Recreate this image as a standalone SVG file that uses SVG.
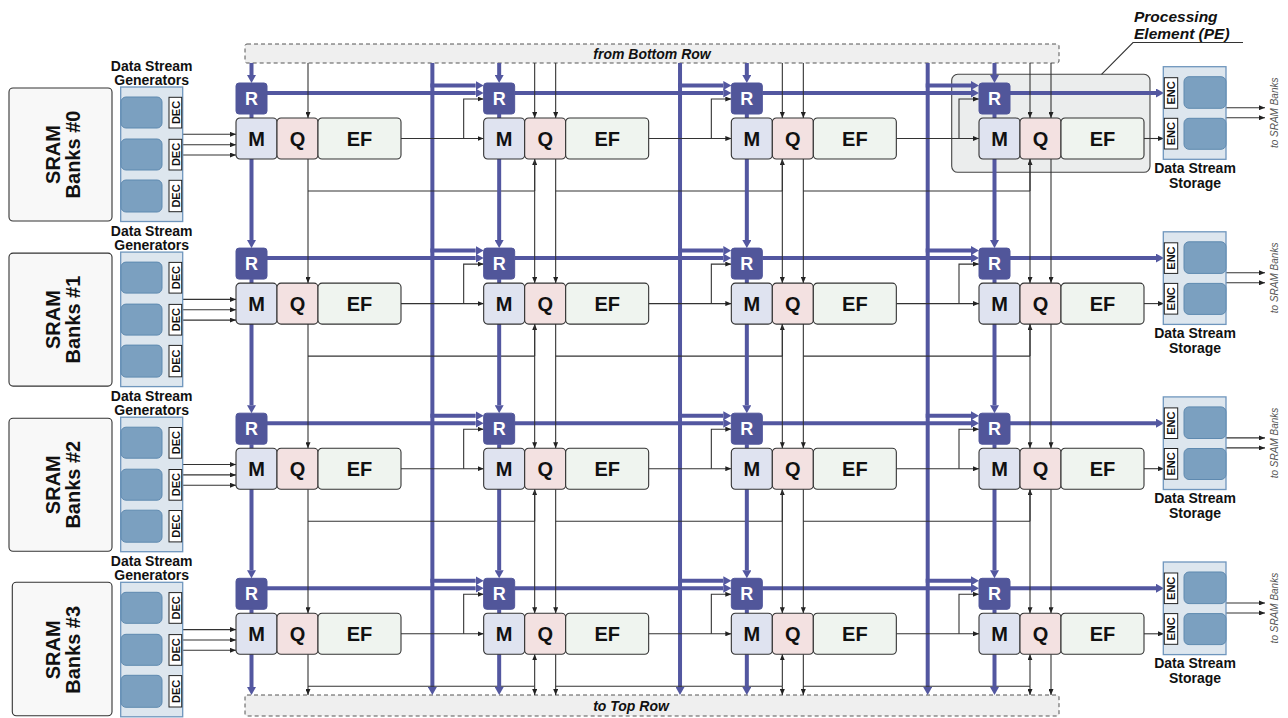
<svg xmlns="http://www.w3.org/2000/svg" width="1288" height="718" viewBox="0 0 1288 718">
<defs>
<style>
text{font-family:"Liberation Sans",Arial,sans-serif}
.bus{fill:none;stroke:#5357a0;stroke-width:4}
.thin{fill:none;stroke:#333;stroke-width:1.1}
.ba{marker-end:url(#ab)}
.ta{marker-end:url(#at)}
.rbox{fill:#51569a;stroke:#51569a;stroke-width:1}
.mbox{fill:#dfe3f0;stroke:#333;stroke-width:1.1}
.qbox{fill:#f3e1e1;stroke:#333;stroke-width:1.1}
.efbox{fill:#eff4ef;stroke:#333;stroke-width:1.1}
.rt{font-size:18px;font-weight:bold;fill:#fff;text-anchor:middle}
.bt{font-size:20px;font-weight:bold;fill:#111;text-anchor:middle}
.sram{fill:#f8f8f8;stroke:#333;stroke-width:1.1}
.st{font-size:20px;font-weight:bold;fill:#111;text-anchor:middle}
.dsg{fill:#dde6ee;stroke:#6f96bd;stroke-width:1.3}
.blk{fill:#7ba0c0;stroke:#5f8ab0;stroke-width:1}
.tag{fill:#fff;stroke:#222;stroke-width:1}
.tagt{font-size:11px;font-weight:bold;fill:#111;text-anchor:middle}
.lbl{font-size:14px;font-weight:bold;fill:#111;text-anchor:middle}
.dash{fill:#efefef;stroke:#555;stroke-width:1;stroke-dasharray:4,3}
.it{font-size:14px;font-weight:bold;font-style:italic;fill:#111;text-anchor:middle}
.sb{font-size:10px;font-style:italic;fill:#555;text-anchor:middle}
</style>
<marker id="ab" markerWidth="8" markerHeight="9" refX="0" refY="4.5" orient="auto" markerUnits="userSpaceOnUse" viewBox="0 0 8 9"><path d="M0,0 L8,4.5 L0,9 z" fill="#5357a0"/></marker>
<marker id="at" markerWidth="6" markerHeight="5" refX="6" refY="2.5" orient="auto" markerUnits="userSpaceOnUse" viewBox="0 0 6 5"><path d="M0,0 L6,2.5 L0,5 z" fill="#222"/></marker>
</defs>
<rect width="1288" height="718" fill="#fff"/>

<g id="pe-highlight">
<rect x="951.7" y="74.3" width="198.3" height="98" rx="6" fill="#ebeded" stroke="#444" stroke-width="1.1"/>
</g>

<g id="from-bottom-row"><rect class="dash" x="245" y="44" width="814" height="19" rx="2"/><text class="it" x="652" y="58.5">from Bottom Row</text></g>
<g id="to-top-row"><rect class="dash" x="245" y="695" width="814" height="21" rx="2"/><text class="it" x="631" y="710.5">to Top Row</text></g>

<g id="connectors">
<g id="diag-buses">
<path class="bus ba" d="M432.37,63V687"/>
<path class="bus ba" d="M680.03,63V687"/>
<path class="bus ba" d="M927.7,63V687"/>
</g>
<!-- row 0 -->
<g transform="translate(236,118)">
<path class="bus ba" d="M15.5,-55V-43"/><path class="bus ba" d="M15.5,-4V122.1"/><path class="bus ba" d="M31,-25H239.67"/>
<path class="thin ta" d="M72,-55V0"/><path class="thin" d="M72,73H298.67"/>
<path class="thin ta" d="M-53,16.3H0"/><path class="thin ta" d="M-53,26.7H0"/><path class="thin ta" d="M-53,37H0"/>
</g>
<g transform="translate(483.67,118)">
<path class="bus ba" d="M15.5,-55V-43"/><path class="bus ba" d="M15.5,-4V122.1"/><path class="bus ba" d="M31,-25H239.67"/><path class="bus ba" d="M-53.3,-32.5H-8"/>
<path class="thin ta" d="M51,-55V0"/><path class="thin ta" d="M72,-55V0"/><path class="thin ta" d="M51,73V41"/><path class="thin" d="M72,73H298.67"/>
<path class="thin ta" d="M-82.67,20.5H0"/><path class="thin ta" d="M-20,20.5V-19H0"/>
</g>
<g transform="translate(731.33,118)">
<path class="bus ba" d="M15.5,-55V-43"/><path class="bus ba" d="M15.5,-4V122.1"/><path class="bus ba" d="M31,-25H239.67"/><path class="bus ba" d="M-53.3,-32.5H-8"/>
<path class="thin ta" d="M51,-55V0"/><path class="thin ta" d="M72,-55V0"/><path class="thin ta" d="M51,73V41"/><path class="thin" d="M72,73H298.67"/>
<path class="thin ta" d="M-82.67,20.5H0"/><path class="thin ta" d="M-20,20.5V-19H0"/>
</g>
<g transform="translate(979,118)">
<path class="bus ba" d="M15.5,-55V-43"/><path class="bus ba" d="M15.5,-4V122.1"/><path class="bus ba" d="M31,-25H177"/><path class="bus ba" d="M-53.3,-32.5H-8"/>
<path class="thin ta" d="M51,-55V0"/><path class="thin ta" d="M72,-55V0"/><path class="thin ta" d="M51,73V41"/>
<path class="thin ta" d="M-82.67,20.5H0"/><path class="thin ta" d="M-20,20.5V-19H0"/>
<path class="thin ta" d="M165,20.5H185"/><path class="thin ta" d="M247,-10.3H286"/><path class="thin ta" d="M247,-0.3H286"/>
</g>
<!-- row 1 -->
<g transform="translate(236,283.1)">
<path class="bus ba" d="M15.5,-4V122.1"/><path class="bus ba" d="M31,-25H239.67"/>
<path class="thin ta" d="M72,-124.1V0"/><path class="thin" d="M72,73H298.67"/>
<path class="thin ta" d="M-53,16.3H0"/><path class="thin ta" d="M-53,26.7H0"/><path class="thin ta" d="M-53,37H0"/>
</g>
<g transform="translate(483.67,283.1)">
<path class="bus ba" d="M15.5,-4V122.1"/><path class="bus ba" d="M31,-25H239.67"/><path class="bus ba" d="M-53.3,-32.5H-8"/>
<path class="thin ta" d="M51,-124.1V0"/><path class="thin ta" d="M72,-124.1V0"/><path class="thin ta" d="M51,73V41"/><path class="thin" d="M72,73H298.67"/>
<path class="thin ta" d="M-82.67,20.5H0"/><path class="thin ta" d="M-20,20.5V-19H0"/>
</g>
<g transform="translate(731.33,283.1)">
<path class="bus ba" d="M15.5,-4V122.1"/><path class="bus ba" d="M31,-25H239.67"/><path class="bus ba" d="M-53.3,-32.5H-8"/>
<path class="thin ta" d="M51,-124.1V0"/><path class="thin ta" d="M72,-124.1V0"/><path class="thin ta" d="M51,73V41"/><path class="thin" d="M72,73H298.67"/>
<path class="thin ta" d="M-82.67,20.5H0"/><path class="thin ta" d="M-20,20.5V-19H0"/>
</g>
<g transform="translate(979,283.1)">
<path class="bus ba" d="M15.5,-4V122.1"/><path class="bus ba" d="M31,-25H177"/><path class="bus ba" d="M-53.3,-32.5H-8"/>
<path class="thin ta" d="M51,-124.1V0"/><path class="thin ta" d="M72,-124.1V0"/><path class="thin ta" d="M51,73V41"/>
<path class="thin ta" d="M-82.67,20.5H0"/><path class="thin ta" d="M-20,20.5V-19H0"/>
<path class="thin ta" d="M165,20.5H185"/><path class="thin ta" d="M247,-10.3H286"/><path class="thin ta" d="M247,-0.3H286"/>
</g>
<!-- row 2 -->
<g transform="translate(236,448.2)">
<path class="bus ba" d="M15.5,-4V122.1"/><path class="bus ba" d="M31,-25H239.67"/>
<path class="thin ta" d="M72,-124.1V0"/><path class="thin" d="M72,73H298.67"/>
<path class="thin ta" d="M-53,16.3H0"/><path class="thin ta" d="M-53,26.7H0"/><path class="thin ta" d="M-53,37H0"/>
</g>
<g transform="translate(483.67,448.2)">
<path class="bus ba" d="M15.5,-4V122.1"/><path class="bus ba" d="M31,-25H239.67"/><path class="bus ba" d="M-53.3,-32.5H-8"/>
<path class="thin ta" d="M51,-124.1V0"/><path class="thin ta" d="M72,-124.1V0"/><path class="thin ta" d="M51,73V41"/><path class="thin" d="M72,73H298.67"/>
<path class="thin ta" d="M-82.67,20.5H0"/><path class="thin ta" d="M-20,20.5V-19H0"/>
</g>
<g transform="translate(731.33,448.2)">
<path class="bus ba" d="M15.5,-4V122.1"/><path class="bus ba" d="M31,-25H239.67"/><path class="bus ba" d="M-53.3,-32.5H-8"/>
<path class="thin ta" d="M51,-124.1V0"/><path class="thin ta" d="M72,-124.1V0"/><path class="thin ta" d="M51,73V41"/><path class="thin" d="M72,73H298.67"/>
<path class="thin ta" d="M-82.67,20.5H0"/><path class="thin ta" d="M-20,20.5V-19H0"/>
</g>
<g transform="translate(979,448.2)">
<path class="bus ba" d="M15.5,-4V122.1"/><path class="bus ba" d="M31,-25H177"/><path class="bus ba" d="M-53.3,-32.5H-8"/>
<path class="thin ta" d="M51,-124.1V0"/><path class="thin ta" d="M72,-124.1V0"/><path class="thin ta" d="M51,73V41"/>
<path class="thin ta" d="M-82.67,20.5H0"/><path class="thin ta" d="M-20,20.5V-19H0"/>
<path class="thin ta" d="M165,20.5H185"/><path class="thin ta" d="M247,-10.3H286"/><path class="thin ta" d="M247,-0.3H286"/>
</g>
<!-- row 3 -->
<g transform="translate(236,613.3)">
<path class="bus ba" d="M15.5,-4V73.7"/><path class="bus ba" d="M31,-25H239.67"/>
<path class="thin ta" d="M72,-124.1V0"/><path class="thin" d="M72,73H298.67"/><path class="thin ta" d="M72,41V81.7"/>
<path class="thin ta" d="M-53,16.3H0"/><path class="thin ta" d="M-53,26.7H0"/><path class="thin ta" d="M-53,37H0"/>
</g>
<g transform="translate(483.67,613.3)">
<path class="bus ba" d="M15.5,-4V73.7"/><path class="bus ba" d="M31,-25H239.67"/><path class="bus ba" d="M-53.3,-32.5H-8"/>
<path class="thin ta" d="M51,-124.1V0"/><path class="thin ta" d="M72,-124.1V0"/><path class="thin ta" d="M51,73V41"/><path class="thin" d="M72,73H298.67"/>
<path class="thin ta" d="M51,73V81.7"/><path class="thin ta" d="M72,41V81.7"/>
<path class="thin ta" d="M-82.67,20.5H0"/><path class="thin ta" d="M-20,20.5V-19H0"/>
</g>
<g transform="translate(731.33,613.3)">
<path class="bus ba" d="M15.5,-4V73.7"/><path class="bus ba" d="M31,-25H239.67"/><path class="bus ba" d="M-53.3,-32.5H-8"/>
<path class="thin ta" d="M51,-124.1V0"/><path class="thin ta" d="M72,-124.1V0"/><path class="thin ta" d="M51,73V41"/><path class="thin" d="M72,73H298.67"/>
<path class="thin ta" d="M51,73V81.7"/><path class="thin ta" d="M72,41V81.7"/>
<path class="thin ta" d="M-82.67,20.5H0"/><path class="thin ta" d="M-20,20.5V-19H0"/>
</g>
<g transform="translate(979,613.3)">
<path class="bus ba" d="M15.5,-4V73.7"/><path class="bus ba" d="M31,-25H177"/><path class="bus ba" d="M-53.3,-32.5H-8"/>
<path class="thin ta" d="M51,-124.1V0"/><path class="thin ta" d="M72,-124.1V0"/><path class="thin ta" d="M51,73V41"/>
<path class="thin ta" d="M51,73V81.7"/><path class="thin ta" d="M72,41V81.7"/>
<path class="thin ta" d="M-82.67,20.5H0"/><path class="thin ta" d="M-20,20.5V-19H0"/>
<path class="thin ta" d="M165,20.5H185"/><path class="thin ta" d="M247,-10.3H286"/><path class="thin ta" d="M247,-0.3H286"/>
</g>
</g>

<!-- left side: SRAM + DSG -->
<g id="sram-0" transform="translate(0,118)"><rect class="sram" x="9" y="-30" width="103" height="133" rx="4"/><text class="st" transform="translate(60,36.5) rotate(-90)">SRAM</text><text class="st" transform="translate(80,36.5) rotate(-90)">Banks #0</text></g>
<g id="sram-1" transform="translate(0,283.1)"><rect class="sram" x="9" y="-30" width="103" height="133" rx="4"/><text class="st" transform="translate(60,36.5) rotate(-90)">SRAM</text><text class="st" transform="translate(80,36.5) rotate(-90)">Banks #1</text></g>
<g id="sram-2" transform="translate(0,448.2)"><rect class="sram" x="9" y="-30" width="103" height="133" rx="4"/><text class="st" transform="translate(60,36.5) rotate(-90)">SRAM</text><text class="st" transform="translate(80,36.5) rotate(-90)">Banks #2</text></g>
<g id="sram-3" transform="translate(0,613.3)"><rect class="sram" x="12.3" y="-31" width="99.7" height="133.5" rx="4"/><text class="st" transform="translate(60,36.5) rotate(-90)">SRAM</text><text class="st" transform="translate(80,36.5) rotate(-90)">Banks #3</text></g>

<g id="dsg-0" transform="translate(0,118)">
<text class="lbl" x="151.7" y="-47.3">Data Stream</text><text class="lbl" x="151.7" y="-33">Generators</text>
<rect class="dsg" x="120.7" y="-31" width="62" height="134.5"/>
<rect class="blk" x="121" y="-21" width="41" height="31" rx="5"/><rect class="blk" x="121" y="21" width="41" height="31" rx="5"/><rect class="blk" x="121" y="62" width="41" height="32" rx="5"/>
<rect class="tag" x="169" y="-20.7" width="12.7" height="30.7"/><rect class="tag" x="169" y="21.3" width="12.7" height="30.7"/><rect class="tag" x="169" y="62.3" width="12.7" height="31.4"/>
<text class="tagt" transform="translate(179.5,-5.5) rotate(-90)">DEC</text><text class="tagt" transform="translate(179.5,36.5) rotate(-90)">DEC</text><text class="tagt" transform="translate(179.5,78) rotate(-90)">DEC</text>
</g>
<g id="dsg-1" transform="translate(0,283.1)">
<text class="lbl" x="151.7" y="-47.3">Data Stream</text><text class="lbl" x="151.7" y="-33">Generators</text>
<rect class="dsg" x="120.7" y="-31" width="62" height="134.5"/>
<rect class="blk" x="121" y="-21" width="41" height="31" rx="5"/><rect class="blk" x="121" y="21" width="41" height="31" rx="5"/><rect class="blk" x="121" y="62" width="41" height="32" rx="5"/>
<rect class="tag" x="169" y="-20.7" width="12.7" height="30.7"/><rect class="tag" x="169" y="21.3" width="12.7" height="30.7"/><rect class="tag" x="169" y="62.3" width="12.7" height="31.4"/>
<text class="tagt" transform="translate(179.5,-5.5) rotate(-90)">DEC</text><text class="tagt" transform="translate(179.5,36.5) rotate(-90)">DEC</text><text class="tagt" transform="translate(179.5,78) rotate(-90)">DEC</text>
</g>
<g id="dsg-2" transform="translate(0,448.2)">
<text class="lbl" x="151.7" y="-47.3">Data Stream</text><text class="lbl" x="151.7" y="-33">Generators</text>
<rect class="dsg" x="120.7" y="-31" width="62" height="134.5"/>
<rect class="blk" x="121" y="-21" width="41" height="31" rx="5"/><rect class="blk" x="121" y="21" width="41" height="31" rx="5"/><rect class="blk" x="121" y="62" width="41" height="32" rx="5"/>
<rect class="tag" x="169" y="-20.7" width="12.7" height="30.7"/><rect class="tag" x="169" y="21.3" width="12.7" height="30.7"/><rect class="tag" x="169" y="62.3" width="12.7" height="31.4"/>
<text class="tagt" transform="translate(179.5,-5.5) rotate(-90)">DEC</text><text class="tagt" transform="translate(179.5,36.5) rotate(-90)">DEC</text><text class="tagt" transform="translate(179.5,78) rotate(-90)">DEC</text>
</g>
<g id="dsg-3" transform="translate(0,613.3)">
<text class="lbl" x="151.7" y="-47.3">Data Stream</text><text class="lbl" x="151.7" y="-33">Generators</text>
<rect class="dsg" x="120.7" y="-31" width="62" height="134.5"/>
<rect class="blk" x="121" y="-21" width="41" height="31" rx="5"/><rect class="blk" x="121" y="21" width="41" height="31" rx="5"/><rect class="blk" x="121" y="62" width="41" height="32" rx="5"/>
<rect class="tag" x="169" y="-20.7" width="12.7" height="30.7"/><rect class="tag" x="169" y="21.3" width="12.7" height="30.7"/><rect class="tag" x="169" y="62.3" width="12.7" height="31.4"/>
<text class="tagt" transform="translate(179.5,-5.5) rotate(-90)">DEC</text><text class="tagt" transform="translate(179.5,36.5) rotate(-90)">DEC</text><text class="tagt" transform="translate(179.5,78) rotate(-90)">DEC</text>
</g>

<!-- right side: DSS -->
<g id="dss-0" transform="translate(0,118)">
<rect class="dsg" x="1163.3" y="-51.3" width="62.7" height="92.6"/>
<rect class="blk" x="1184" y="-41.3" width="42" height="31.6" rx="5"/><rect class="blk" x="1184" y="0.3" width="42" height="31" rx="5"/>
<rect class="tag" x="1164.3" y="-40.3" width="13.4" height="30.6"/><rect class="tag" x="1164.3" y="0.3" width="13.4" height="30.7"/>
<text class="tagt" transform="translate(1175,-25) rotate(-90)">ENC</text><text class="tagt" transform="translate(1175,15.7) rotate(-90)">ENC</text>
<text class="lbl" x="1195" y="55">Data Stream</text><text class="lbl" x="1195" y="69.5">Storage</text>
<text class="sb" transform="translate(1277.5,-5.2) rotate(-90)">to SRAM Banks</text>
</g>
<g id="dss-1" transform="translate(0,283.1)">
<rect class="dsg" x="1163.3" y="-51.3" width="62.7" height="92.6"/>
<rect class="blk" x="1184" y="-41.3" width="42" height="31.6" rx="5"/><rect class="blk" x="1184" y="0.3" width="42" height="31" rx="5"/>
<rect class="tag" x="1164.3" y="-40.3" width="13.4" height="30.6"/><rect class="tag" x="1164.3" y="0.3" width="13.4" height="30.7"/>
<text class="tagt" transform="translate(1175,-25) rotate(-90)">ENC</text><text class="tagt" transform="translate(1175,15.7) rotate(-90)">ENC</text>
<text class="lbl" x="1195" y="55">Data Stream</text><text class="lbl" x="1195" y="69.5">Storage</text>
<text class="sb" transform="translate(1277.5,-5.2) rotate(-90)">to SRAM Banks</text>
</g>
<g id="dss-2" transform="translate(0,448.2)">
<rect class="dsg" x="1163.3" y="-51.3" width="62.7" height="92.6"/>
<rect class="blk" x="1184" y="-41.3" width="42" height="31.6" rx="5"/><rect class="blk" x="1184" y="0.3" width="42" height="31" rx="5"/>
<rect class="tag" x="1164.3" y="-40.3" width="13.4" height="30.6"/><rect class="tag" x="1164.3" y="0.3" width="13.4" height="30.7"/>
<text class="tagt" transform="translate(1175,-25) rotate(-90)">ENC</text><text class="tagt" transform="translate(1175,15.7) rotate(-90)">ENC</text>
<text class="lbl" x="1195" y="55">Data Stream</text><text class="lbl" x="1195" y="69.5">Storage</text>
<text class="sb" transform="translate(1277.5,-5.2) rotate(-90)">to SRAM Banks</text>
</g>
<g id="dss-3" transform="translate(0,613.3)">
<rect class="dsg" x="1163.3" y="-51.3" width="62.7" height="92.6"/>
<rect class="blk" x="1184" y="-41.3" width="42" height="31.6" rx="5"/><rect class="blk" x="1184" y="0.3" width="42" height="31" rx="5"/>
<rect class="tag" x="1164.3" y="-40.3" width="13.4" height="30.6"/><rect class="tag" x="1164.3" y="0.3" width="13.4" height="30.7"/>
<text class="tagt" transform="translate(1175,-25) rotate(-90)">ENC</text><text class="tagt" transform="translate(1175,15.7) rotate(-90)">ENC</text>
<text class="lbl" x="1195" y="55">Data Stream</text><text class="lbl" x="1195" y="69.5">Storage</text>
<text class="sb" transform="translate(1277.5,-5.2) rotate(-90)">to SRAM Banks</text>
</g>

<!-- PEs -->
<g id="pe-0-0" transform="translate(236,118)"><g id="r-0-0"><rect class="rbox" x="0" y="-35" width="31" height="31" rx="3"/><text class="rt" x="15.5" y="-13">R</text></g><g id="m-0-0"><rect class="mbox" width="41" height="41" rx="4"/><text class="bt" x="20.5" y="27.5">M</text></g><g id="q-0-0"><rect class="qbox" x="41" width="41" height="41" rx="4"/><text class="bt" x="61.5" y="27.5">Q</text></g><g id="ef-0-0"><rect class="efbox" x="82" width="83" height="41" rx="4"/><text class="bt" x="123.5" y="27.5">EF</text></g></g>
<g id="pe-0-1" transform="translate(483.67,118)"><g id="r-0-1"><rect class="rbox" x="0" y="-35" width="31" height="31" rx="3"/><text class="rt" x="15.5" y="-13">R</text></g><g id="m-0-1"><rect class="mbox" width="41" height="41" rx="4"/><text class="bt" x="20.5" y="27.5">M</text></g><g id="q-0-1"><rect class="qbox" x="41" width="41" height="41" rx="4"/><text class="bt" x="61.5" y="27.5">Q</text></g><g id="ef-0-1"><rect class="efbox" x="82" width="83" height="41" rx="4"/><text class="bt" x="123.5" y="27.5">EF</text></g></g>
<g id="pe-0-2" transform="translate(731.33,118)"><g id="r-0-2"><rect class="rbox" x="0" y="-35" width="31" height="31" rx="3"/><text class="rt" x="15.5" y="-13">R</text></g><g id="m-0-2"><rect class="mbox" width="41" height="41" rx="4"/><text class="bt" x="20.5" y="27.5">M</text></g><g id="q-0-2"><rect class="qbox" x="41" width="41" height="41" rx="4"/><text class="bt" x="61.5" y="27.5">Q</text></g><g id="ef-0-2"><rect class="efbox" x="82" width="83" height="41" rx="4"/><text class="bt" x="123.5" y="27.5">EF</text></g></g>
<g id="pe-0-3" transform="translate(979,118)"><g id="r-0-3"><rect class="rbox" x="0" y="-35" width="31" height="31" rx="3"/><text class="rt" x="15.5" y="-13">R</text></g><g id="m-0-3"><rect class="mbox" width="41" height="41" rx="4"/><text class="bt" x="20.5" y="27.5">M</text></g><g id="q-0-3"><rect class="qbox" x="41" width="41" height="41" rx="4"/><text class="bt" x="61.5" y="27.5">Q</text></g><g id="ef-0-3"><rect class="efbox" x="82" width="83" height="41" rx="4"/><text class="bt" x="123.5" y="27.5">EF</text></g></g>
<g id="pe-1-0" transform="translate(236,283.1)"><g id="r-1-0"><rect class="rbox" x="0" y="-35" width="31" height="31" rx="3"/><text class="rt" x="15.5" y="-13">R</text></g><g id="m-1-0"><rect class="mbox" width="41" height="41" rx="4"/><text class="bt" x="20.5" y="27.5">M</text></g><g id="q-1-0"><rect class="qbox" x="41" width="41" height="41" rx="4"/><text class="bt" x="61.5" y="27.5">Q</text></g><g id="ef-1-0"><rect class="efbox" x="82" width="83" height="41" rx="4"/><text class="bt" x="123.5" y="27.5">EF</text></g></g>
<g id="pe-1-1" transform="translate(483.67,283.1)"><g id="r-1-1"><rect class="rbox" x="0" y="-35" width="31" height="31" rx="3"/><text class="rt" x="15.5" y="-13">R</text></g><g id="m-1-1"><rect class="mbox" width="41" height="41" rx="4"/><text class="bt" x="20.5" y="27.5">M</text></g><g id="q-1-1"><rect class="qbox" x="41" width="41" height="41" rx="4"/><text class="bt" x="61.5" y="27.5">Q</text></g><g id="ef-1-1"><rect class="efbox" x="82" width="83" height="41" rx="4"/><text class="bt" x="123.5" y="27.5">EF</text></g></g>
<g id="pe-1-2" transform="translate(731.33,283.1)"><g id="r-1-2"><rect class="rbox" x="0" y="-35" width="31" height="31" rx="3"/><text class="rt" x="15.5" y="-13">R</text></g><g id="m-1-2"><rect class="mbox" width="41" height="41" rx="4"/><text class="bt" x="20.5" y="27.5">M</text></g><g id="q-1-2"><rect class="qbox" x="41" width="41" height="41" rx="4"/><text class="bt" x="61.5" y="27.5">Q</text></g><g id="ef-1-2"><rect class="efbox" x="82" width="83" height="41" rx="4"/><text class="bt" x="123.5" y="27.5">EF</text></g></g>
<g id="pe-1-3" transform="translate(979,283.1)"><g id="r-1-3"><rect class="rbox" x="0" y="-35" width="31" height="31" rx="3"/><text class="rt" x="15.5" y="-13">R</text></g><g id="m-1-3"><rect class="mbox" width="41" height="41" rx="4"/><text class="bt" x="20.5" y="27.5">M</text></g><g id="q-1-3"><rect class="qbox" x="41" width="41" height="41" rx="4"/><text class="bt" x="61.5" y="27.5">Q</text></g><g id="ef-1-3"><rect class="efbox" x="82" width="83" height="41" rx="4"/><text class="bt" x="123.5" y="27.5">EF</text></g></g>
<g id="pe-2-0" transform="translate(236,448.2)"><g id="r-2-0"><rect class="rbox" x="0" y="-35" width="31" height="31" rx="3"/><text class="rt" x="15.5" y="-13">R</text></g><g id="m-2-0"><rect class="mbox" width="41" height="41" rx="4"/><text class="bt" x="20.5" y="27.5">M</text></g><g id="q-2-0"><rect class="qbox" x="41" width="41" height="41" rx="4"/><text class="bt" x="61.5" y="27.5">Q</text></g><g id="ef-2-0"><rect class="efbox" x="82" width="83" height="41" rx="4"/><text class="bt" x="123.5" y="27.5">EF</text></g></g>
<g id="pe-2-1" transform="translate(483.67,448.2)"><g id="r-2-1"><rect class="rbox" x="0" y="-35" width="31" height="31" rx="3"/><text class="rt" x="15.5" y="-13">R</text></g><g id="m-2-1"><rect class="mbox" width="41" height="41" rx="4"/><text class="bt" x="20.5" y="27.5">M</text></g><g id="q-2-1"><rect class="qbox" x="41" width="41" height="41" rx="4"/><text class="bt" x="61.5" y="27.5">Q</text></g><g id="ef-2-1"><rect class="efbox" x="82" width="83" height="41" rx="4"/><text class="bt" x="123.5" y="27.5">EF</text></g></g>
<g id="pe-2-2" transform="translate(731.33,448.2)"><g id="r-2-2"><rect class="rbox" x="0" y="-35" width="31" height="31" rx="3"/><text class="rt" x="15.5" y="-13">R</text></g><g id="m-2-2"><rect class="mbox" width="41" height="41" rx="4"/><text class="bt" x="20.5" y="27.5">M</text></g><g id="q-2-2"><rect class="qbox" x="41" width="41" height="41" rx="4"/><text class="bt" x="61.5" y="27.5">Q</text></g><g id="ef-2-2"><rect class="efbox" x="82" width="83" height="41" rx="4"/><text class="bt" x="123.5" y="27.5">EF</text></g></g>
<g id="pe-2-3" transform="translate(979,448.2)"><g id="r-2-3"><rect class="rbox" x="0" y="-35" width="31" height="31" rx="3"/><text class="rt" x="15.5" y="-13">R</text></g><g id="m-2-3"><rect class="mbox" width="41" height="41" rx="4"/><text class="bt" x="20.5" y="27.5">M</text></g><g id="q-2-3"><rect class="qbox" x="41" width="41" height="41" rx="4"/><text class="bt" x="61.5" y="27.5">Q</text></g><g id="ef-2-3"><rect class="efbox" x="82" width="83" height="41" rx="4"/><text class="bt" x="123.5" y="27.5">EF</text></g></g>
<g id="pe-3-0" transform="translate(236,613.3)"><g id="r-3-0"><rect class="rbox" x="0" y="-35" width="31" height="31" rx="3"/><text class="rt" x="15.5" y="-13">R</text></g><g id="m-3-0"><rect class="mbox" width="41" height="41" rx="4"/><text class="bt" x="20.5" y="27.5">M</text></g><g id="q-3-0"><rect class="qbox" x="41" width="41" height="41" rx="4"/><text class="bt" x="61.5" y="27.5">Q</text></g><g id="ef-3-0"><rect class="efbox" x="82" width="83" height="41" rx="4"/><text class="bt" x="123.5" y="27.5">EF</text></g></g>
<g id="pe-3-1" transform="translate(483.67,613.3)"><g id="r-3-1"><rect class="rbox" x="0" y="-35" width="31" height="31" rx="3"/><text class="rt" x="15.5" y="-13">R</text></g><g id="m-3-1"><rect class="mbox" width="41" height="41" rx="4"/><text class="bt" x="20.5" y="27.5">M</text></g><g id="q-3-1"><rect class="qbox" x="41" width="41" height="41" rx="4"/><text class="bt" x="61.5" y="27.5">Q</text></g><g id="ef-3-1"><rect class="efbox" x="82" width="83" height="41" rx="4"/><text class="bt" x="123.5" y="27.5">EF</text></g></g>
<g id="pe-3-2" transform="translate(731.33,613.3)"><g id="r-3-2"><rect class="rbox" x="0" y="-35" width="31" height="31" rx="3"/><text class="rt" x="15.5" y="-13">R</text></g><g id="m-3-2"><rect class="mbox" width="41" height="41" rx="4"/><text class="bt" x="20.5" y="27.5">M</text></g><g id="q-3-2"><rect class="qbox" x="41" width="41" height="41" rx="4"/><text class="bt" x="61.5" y="27.5">Q</text></g><g id="ef-3-2"><rect class="efbox" x="82" width="83" height="41" rx="4"/><text class="bt" x="123.5" y="27.5">EF</text></g></g>
<g id="pe-3-3" transform="translate(979,613.3)"><g id="r-3-3"><rect class="rbox" x="0" y="-35" width="31" height="31" rx="3"/><text class="rt" x="15.5" y="-13">R</text></g><g id="m-3-3"><rect class="mbox" width="41" height="41" rx="4"/><text class="bt" x="20.5" y="27.5">M</text></g><g id="q-3-3"><rect class="qbox" x="41" width="41" height="41" rx="4"/><text class="bt" x="61.5" y="27.5">Q</text></g><g id="ef-3-3"><rect class="efbox" x="82" width="83" height="41" rx="4"/><text class="bt" x="123.5" y="27.5">EF</text></g></g>

<g id="pe-label">
<text x="1134" y="22" style="font-size:15.5px;font-weight:bold;font-style:italic;fill:#111">Processing</text>
<text x="1134" y="38.5" style="font-size:15.5px;font-weight:bold;font-style:italic;fill:#111">Element (PE)</text>
<path d="M1243,42.5H1133L1101.5,74.3" fill="none" stroke="#333" stroke-width="1.1"/>
</g>
</svg>
